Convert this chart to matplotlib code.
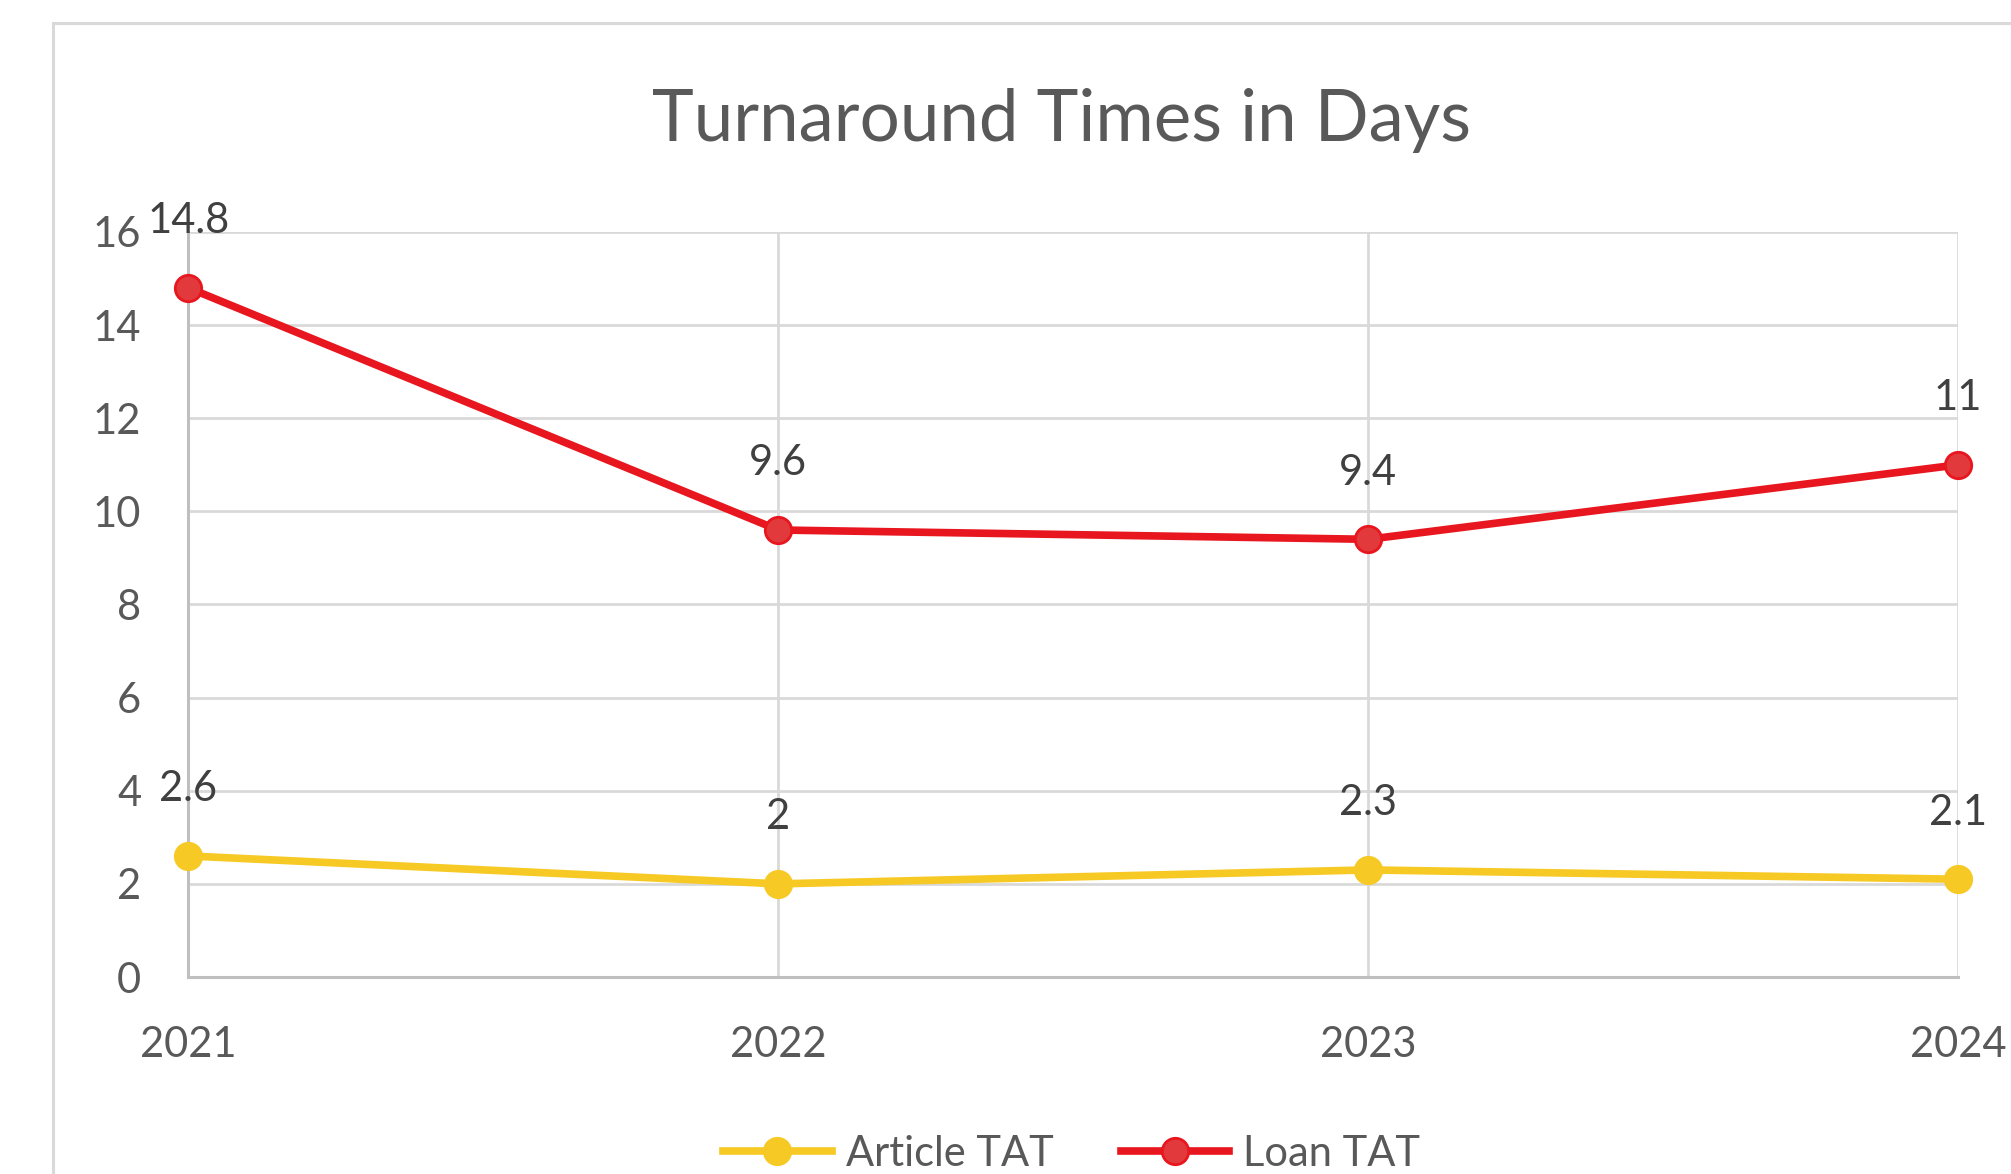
# Turnaround times chart (Article vs Loan TAT)
import matplotlib.pyplot as plt
from matplotlib.patches import Rectangle

# Data
years = ['2021', '2022', '2023', '2024']
article_tat = [2.6, 2.0, 2.3, 2.1]
loan_tat = [14.8, 9.6, 9.4, 11.0]
article_labels = ['2.6', '2', '2.3', '2.1']
loan_labels = ['14.8', '9.6', '9.4', '11']
y_ticks = [0, 2, 4, 6, 8, 10, 12, 14, 16]

FONT = 'Lato'
TEXT_GRAY = '#595959'
LABEL_GRAY = '#404040'
GRID = '#d9d9d9'
YELLOW = '#f6c924'
RED = '#e8161e'
RED_FACE = '#e23a3c'

plt.rcParams['font.family'] = [FONT, 'DejaVu Sans']

fig = plt.figure(figsize=(20.11, 11.74), dpi=100)
ax = fig.add_axes([0.0937, 0.1678, 0.8800, 0.6346])

# outer chart border (cropped on the right and bottom like the screenshot)
fig.patches.append(Rectangle((53 / 2011, -0.2), 1.2, 1.2 - 23 / 1174,
                             transform=fig.transFigure, fill=False,
                             edgecolor=GRID, linewidth=2.2))

x = list(range(len(years)))
ax.plot(x, article_tat, color=YELLOW, linewidth=5.5, marker='o', markersize=20,
        markerfacecolor=YELLOW, markeredgecolor=YELLOW, label='Article TAT',
        clip_on=False, zorder=3)
ax.plot(x, loan_tat, color=RED, linewidth=5.5, marker='o', markersize=19,
        markerfacecolor=RED_FACE, markeredgecolor=RED, markeredgewidth=2,
        label='Loan TAT', clip_on=False, zorder=3)

# data labels above points
for xi, v, lab in zip(x, article_tat, article_labels):
    ax.annotate(lab, (xi, v), xytext=(0, 48), textcoords='offset points',
                ha='center', va='center', fontsize=30, color=LABEL_GRAY)
for xi, v, lab in zip(x, loan_tat, loan_labels):
    ax.annotate(lab, (xi, v), xytext=(0, 48), textcoords='offset points',
                ha='center', va='center', fontsize=30, color=LABEL_GRAY)

ax.set_xlim(0, 3)
ax.set_ylim(0, 16)
ax.set_xticks(x)
ax.set_xticklabels(years)
ax.set_yticks(y_ticks)
ax.tick_params(axis='both', length=0, labelsize=30, labelcolor=TEXT_GRAY)
ax.tick_params(axis='y', pad=34)
ax.tick_params(axis='x', pad=35)

ax.grid(True, color=GRID, linewidth=2)
ax.set_axisbelow(True)
for side in ['top', 'right']:
    ax.spines[side].set_visible(False)
for side in ['left', 'bottom']:
    ax.spines[side].set_color('#bfbfbf')
    ax.spines[side].set_linewidth(2.2)

fig.text(0.528, 0.897, 'Turnaround Times in Days', ha='center', va='center',
         fontsize=51, color=TEXT_GRAY)

ax.legend(loc='center', bbox_to_anchor=(0.533, 0.017), bbox_transform=fig.transFigure,
          ncol=2, frameon=False, fontsize=30, labelcolor=TEXT_GRAY,
          handlelength=2.6, handletextpad=0.35, columnspacing=1.6)

fig.savefig('out.png', dpi=100)
